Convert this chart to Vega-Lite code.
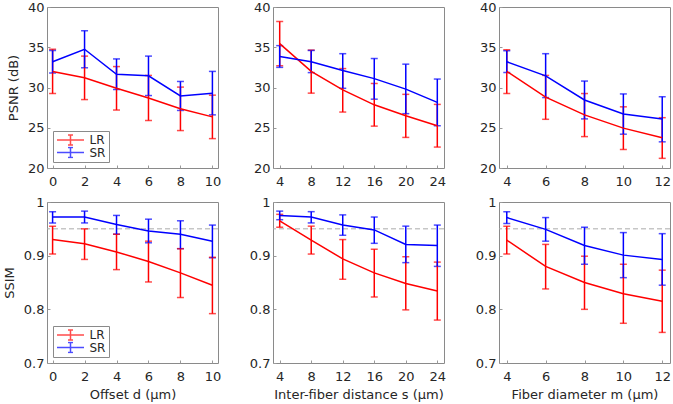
{
  "$schema": "https://vega.github.io/schema/vega-lite/v6.json",
  "padding": {"left": 2, "top": 0, "right": 0, "bottom": 0},
  "background": "white",
  "datasets": {
    "p1": [
      {"x": 0, "series": "LR", "mean": 32.0, "lo": 29.25, "hi": 34.75},
      {"x": 2, "series": "LR", "mean": 31.2, "lo": 28.5, "hi": 33.9},
      {"x": 4, "series": "LR", "mean": 29.9, "lo": 27.2, "hi": 32.6},
      {"x": 6, "series": "LR", "mean": 28.7, "lo": 25.9, "hi": 31.5},
      {"x": 8, "series": "LR", "mean": 27.35, "lo": 24.65, "hi": 30.05},
      {"x": 10, "series": "LR", "mean": 26.35, "lo": 23.65, "hi": 29.05},
      {"x": 0, "series": "SR", "mean": 33.2, "lo": 31.8, "hi": 34.6},
      {"x": 2, "series": "SR", "mean": 34.75, "lo": 32.45, "hi": 37.05},
      {"x": 4, "series": "SR", "mean": 31.65, "lo": 29.75, "hi": 33.55},
      {"x": 6, "series": "SR", "mean": 31.45, "lo": 29.0, "hi": 33.9},
      {"x": 8, "series": "SR", "mean": 28.95, "lo": 27.15, "hi": 30.75},
      {"x": 10, "series": "SR", "mean": 29.3, "lo": 26.6, "hi": 32.0}
    ],
    "p2": [
      {"x": 4, "series": "LR", "mean": 35.45, "lo": 32.7, "hi": 38.2},
      {"x": 8, "series": "LR", "mean": 32.0, "lo": 29.3, "hi": 34.65},
      {"x": 12, "series": "LR", "mean": 29.7, "lo": 26.95, "hi": 32.35},
      {"x": 16, "series": "LR", "mean": 27.85, "lo": 25.2, "hi": 30.5},
      {"x": 20, "series": "LR", "mean": 26.5, "lo": 23.8, "hi": 29.15},
      {"x": 24, "series": "LR", "mean": 25.25, "lo": 22.6, "hi": 27.9},
      {"x": 4, "series": "SR", "mean": 33.85, "lo": 32.5, "hi": 35.2},
      {"x": 8, "series": "SR", "mean": 33.2, "lo": 31.85, "hi": 34.6},
      {"x": 12, "series": "SR", "mean": 32.1, "lo": 29.9, "hi": 34.2},
      {"x": 16, "series": "SR", "mean": 31.1, "lo": 28.55, "hi": 33.6},
      {"x": 20, "series": "SR", "mean": 29.8, "lo": 26.75, "hi": 32.9},
      {"x": 24, "series": "SR", "mean": 28.15, "lo": 25.25, "hi": 31.05}
    ],
    "p3": [
      {"x": 4, "series": "LR", "mean": 32.0, "lo": 29.25, "hi": 34.7},
      {"x": 6, "series": "LR", "mean": 28.8, "lo": 26.05, "hi": 31.5},
      {"x": 8, "series": "LR", "mean": 26.6, "lo": 23.9, "hi": 29.25},
      {"x": 10, "series": "LR", "mean": 24.95, "lo": 22.3, "hi": 27.6},
      {"x": 12, "series": "LR", "mean": 23.75, "lo": 21.2, "hi": 26.25},
      {"x": 4, "series": "SR", "mean": 33.2, "lo": 31.85, "hi": 34.55},
      {"x": 6, "series": "SR", "mean": 31.45, "lo": 28.75, "hi": 34.2},
      {"x": 8, "series": "SR", "mean": 28.45, "lo": 26.1, "hi": 30.8},
      {"x": 10, "series": "SR", "mean": 26.7, "lo": 24.2, "hi": 29.2},
      {"x": 12, "series": "SR", "mean": 26.1, "lo": 23.25, "hi": 28.85}
    ],
    "p4": [
      {"x": 0, "series": "LR", "mean": 0.930, "lo": 0.903, "hi": 0.955},
      {"x": 2, "series": "LR", "mean": 0.922, "lo": 0.893, "hi": 0.950},
      {"x": 4, "series": "LR", "mean": 0.907, "lo": 0.874, "hi": 0.940},
      {"x": 6, "series": "LR", "mean": 0.889, "lo": 0.851, "hi": 0.927},
      {"x": 8, "series": "LR", "mean": 0.868, "lo": 0.822, "hi": 0.913},
      {"x": 10, "series": "LR", "mean": 0.845, "lo": 0.792, "hi": 0.897},
      {"x": 0, "series": "SR", "mean": 0.972, "lo": 0.961, "hi": 0.982},
      {"x": 2, "series": "SR", "mean": 0.972, "lo": 0.961, "hi": 0.983},
      {"x": 4, "series": "SR", "mean": 0.958, "lo": 0.940, "hi": 0.975},
      {"x": 6, "series": "SR", "mean": 0.946, "lo": 0.924, "hi": 0.968},
      {"x": 8, "series": "SR", "mean": 0.940, "lo": 0.913, "hi": 0.965},
      {"x": 10, "series": "SR", "mean": 0.927, "lo": 0.896, "hi": 0.957}
    ],
    "p5": [
      {"x": 4, "series": "LR", "mean": 0.965, "lo": 0.953, "hi": 0.977},
      {"x": 8, "series": "LR", "mean": 0.929, "lo": 0.903, "hi": 0.955},
      {"x": 12, "series": "LR", "mean": 0.894, "lo": 0.856, "hi": 0.930},
      {"x": 16, "series": "LR", "mean": 0.868, "lo": 0.823, "hi": 0.912},
      {"x": 20, "series": "LR", "mean": 0.848, "lo": 0.799, "hi": 0.898},
      {"x": 24, "series": "LR", "mean": 0.834, "lo": 0.780, "hi": 0.888},
      {"x": 4, "series": "SR", "mean": 0.975, "lo": 0.967, "hi": 0.983},
      {"x": 8, "series": "SR", "mean": 0.972, "lo": 0.961, "hi": 0.982},
      {"x": 12, "series": "SR", "mean": 0.957, "lo": 0.938, "hi": 0.976},
      {"x": 16, "series": "SR", "mean": 0.948, "lo": 0.923, "hi": 0.972},
      {"x": 20, "series": "SR", "mean": 0.921, "lo": 0.887, "hi": 0.955},
      {"x": 24, "series": "SR", "mean": 0.919, "lo": 0.880, "hi": 0.957}
    ],
    "p6": [
      {"x": 4, "series": "LR", "mean": 0.929, "lo": 0.903, "hi": 0.955},
      {"x": 6, "series": "LR", "mean": 0.880, "lo": 0.838, "hi": 0.921},
      {"x": 8, "series": "LR", "mean": 0.850, "lo": 0.800, "hi": 0.899},
      {"x": 10, "series": "LR", "mean": 0.829, "lo": 0.774, "hi": 0.884},
      {"x": 12, "series": "LR", "mean": 0.815, "lo": 0.757, "hi": 0.873},
      {"x": 4, "series": "SR", "mean": 0.971, "lo": 0.960, "hi": 0.982},
      {"x": 6, "series": "SR", "mean": 0.949, "lo": 0.927, "hi": 0.971},
      {"x": 8, "series": "SR", "mean": 0.919, "lo": 0.884, "hi": 0.953},
      {"x": 10, "series": "SR", "mean": 0.901, "lo": 0.859, "hi": 0.943},
      {"x": 12, "series": "SR", "mean": 0.893, "lo": 0.845, "hi": 0.941}
    ],
    "threshold": [{"ssim": 0.95}]
  },
  "columns": 3,
  "spacing": {"row": 34, "column": 55},
  "bounds": "flush",
  "resolve": {"scale": {"color": "independent"}, "legend": {"color": "independent"}},
  "concat": [
    {
      "width": 171, "height": 161,
      "data": {"name": "p1"},
      "encoding": {
        "x": {"field": "x", "type": "quantitative", "scale": {"domain": [-0.35, 10.35], "nice": false, "zero": false}, "axis": {"title": null, "values": [0, 2, 4, 6, 8, 10]}},
        "color": {"field": "series", "type": "nominal", "scale": {"domain": ["LR", "SR"], "range": ["#ff0000", "#0000ff"]},
          "legend": {"orient": "bottom-left", "offset": 6, "title": null, "strokeColor": "#8a8a8a", "fillColor": "white", "padding": 3, "symbolType": "M-2.7,0H2.7M0,-1V1M-0.5,-1H0.5M-0.5,1H0.5", "symbolSize": 100, "symbolStrokeWidth": 1.5, "symbolOffset": 8.5, "labelOffset": 13, "labelFontSize": 12, "clipHeight": 12, "rowPadding": 0.5, "labelColor": "#262626"}}
      },
      "layer": [
        {"mark": {"type": "errorbar", "ticks": {"size": 7, "thickness": 1.5}, "rule": {"strokeWidth": 1.5}},
         "encoding": {"y": {"field": "lo", "type": "quantitative", "title": "PSNR (dB)", "scale": {"domain": [20, 40], "nice": false, "zero": false}, "axis": {"values": [20, 25, 30, 35, 40]}}, "y2": {"field": "hi"}}},
        {"mark": {"type": "line", "strokeWidth": 1.5},
         "encoding": {"y": {"field": "mean", "type": "quantitative", "title": "PSNR (dB)", "scale": {"domain": [20, 40], "nice": false, "zero": false}, "axis": {"values": [20, 25, 30, 35, 40]}}}}
      ]
    },
    {
      "width": 171, "height": 161,
      "data": {"name": "p2"},
      "encoding": {
        "x": {"field": "x", "type": "quantitative", "scale": {"domain": [3.15, 24.85], "nice": false, "zero": false}, "axis": {"title": null, "values": [4, 8, 12, 16, 20, 24]}},
        "color": {"field": "series", "type": "nominal", "scale": {"domain": ["LR", "SR"], "range": ["#ff0000", "#0000ff"]}, "legend": null}
      },
      "layer": [
        {"mark": {"type": "errorbar", "ticks": {"size": 7, "thickness": 1.5}, "rule": {"strokeWidth": 1.5}},
         "encoding": {"y": {"field": "lo", "type": "quantitative", "title": null, "scale": {"domain": [20, 40], "nice": false, "zero": false}, "axis": {"values": [20, 25, 30, 35, 40]}}, "y2": {"field": "hi"}}},
        {"mark": {"type": "line", "strokeWidth": 1.5},
         "encoding": {"y": {"field": "mean", "type": "quantitative", "title": null, "scale": {"domain": [20, 40], "nice": false, "zero": false}, "axis": {"values": [20, 25, 30, 35, 40]}}}}
      ]
    },
    {
      "width": 171, "height": 161,
      "data": {"name": "p3"},
      "encoding": {
        "x": {"field": "x", "type": "quantitative", "scale": {"domain": [3.6, 12.4], "nice": false, "zero": false}, "axis": {"title": null, "values": [4, 6, 8, 10, 12]}},
        "color": {"field": "series", "type": "nominal", "scale": {"domain": ["LR", "SR"], "range": ["#ff0000", "#0000ff"]}, "legend": null}
      },
      "layer": [
        {"mark": {"type": "errorbar", "ticks": {"size": 7, "thickness": 1.5}, "rule": {"strokeWidth": 1.5}},
         "encoding": {"y": {"field": "lo", "type": "quantitative", "title": null, "scale": {"domain": [20, 40], "nice": false, "zero": false}, "axis": {"values": [20, 25, 30, 35, 40]}}, "y2": {"field": "hi"}}},
        {"mark": {"type": "line", "strokeWidth": 1.5},
         "encoding": {"y": {"field": "mean", "type": "quantitative", "title": null, "scale": {"domain": [20, 40], "nice": false, "zero": false}, "axis": {"values": [20, 25, 30, 35, 40]}}}}
      ]
    },
    {
      "width": 171, "height": 161,
      "layer": [
        {"data": {"name": "threshold"}, "mark": {"type": "rule", "color": "#aaaaaa", "strokeWidth": 1, "strokeDash": [5, 3]},
         "encoding": {"y": {"field": "ssim", "type": "quantitative", "title": "SSIM", "scale": {"domain": [0.7, 1], "nice": false, "zero": false}, "axis": {"values": [0.7, 0.8, 0.9, 1], "format": "~g"}}}},
        {"data": {"name": "p4"}, "mark": {"type": "errorbar", "ticks": {"size": 7, "thickness": 1.5}, "rule": {"strokeWidth": 1.5}},
         "encoding": {
           "x": {"field": "x", "type": "quantitative", "scale": {"domain": [-0.35, 10.35], "nice": false, "zero": false}, "axis": {"title": "Offset d (μm)", "values": [0, 2, 4, 6, 8, 10]}},
           "color": {"field": "series", "type": "nominal", "scale": {"domain": ["LR", "SR"], "range": ["#ff0000", "#0000ff"]},
             "legend": {"orient": "bottom-left", "offset": 6, "title": null, "strokeColor": "#8a8a8a", "fillColor": "white", "padding": 3, "symbolType": "M-2.7,0H2.7M0,-1V1M-0.5,-1H0.5M-0.5,1H0.5", "symbolSize": 100, "symbolStrokeWidth": 1.5, "symbolOffset": 8.5, "labelOffset": 13, "labelFontSize": 12, "clipHeight": 12, "rowPadding": 0.5, "labelColor": "#262626"}},
           "y": {"field": "lo", "type": "quantitative", "title": "SSIM", "scale": {"domain": [0.7, 1], "nice": false, "zero": false}, "axis": {"values": [0.7, 0.8, 0.9, 1], "format": "~g"}}, "y2": {"field": "hi"}}},
        {"data": {"name": "p4"}, "mark": {"type": "line", "strokeWidth": 1.5},
         "encoding": {
           "x": {"field": "x", "type": "quantitative", "scale": {"domain": [-0.35, 10.35], "nice": false, "zero": false}, "axis": {"title": "Offset d (μm)", "values": [0, 2, 4, 6, 8, 10]}},
           "color": {"field": "series", "type": "nominal", "scale": {"domain": ["LR", "SR"], "range": ["#ff0000", "#0000ff"]}},
           "y": {"field": "mean", "type": "quantitative", "title": "SSIM", "scale": {"domain": [0.7, 1], "nice": false, "zero": false}, "axis": {"values": [0.7, 0.8, 0.9, 1], "format": "~g"}}}}
      ]
    },
    {
      "width": 171, "height": 161,
      "layer": [
        {"data": {"name": "threshold"}, "mark": {"type": "rule", "color": "#aaaaaa", "strokeWidth": 1, "strokeDash": [5, 3]},
         "encoding": {"y": {"field": "ssim", "type": "quantitative", "title": null, "scale": {"domain": [0.7, 1], "nice": false, "zero": false}, "axis": {"values": [0.7, 0.8, 0.9, 1], "format": "~g"}}}},
        {"data": {"name": "p5"}, "mark": {"type": "errorbar", "ticks": {"size": 7, "thickness": 1.5}, "rule": {"strokeWidth": 1.5}},
         "encoding": {
           "x": {"field": "x", "type": "quantitative", "scale": {"domain": [3.15, 24.85], "nice": false, "zero": false}, "axis": {"title": "Inter-fiber distance s (μm)", "values": [4, 8, 12, 16, 20, 24]}},
           "color": {"field": "series", "type": "nominal", "scale": {"domain": ["LR", "SR"], "range": ["#ff0000", "#0000ff"]}, "legend": null},
           "y": {"field": "lo", "type": "quantitative", "title": null, "scale": {"domain": [0.7, 1], "nice": false, "zero": false}, "axis": {"values": [0.7, 0.8, 0.9, 1], "format": "~g"}}, "y2": {"field": "hi"}}},
        {"data": {"name": "p5"}, "mark": {"type": "line", "strokeWidth": 1.5},
         "encoding": {
           "x": {"field": "x", "type": "quantitative", "scale": {"domain": [3.15, 24.85], "nice": false, "zero": false}, "axis": {"title": "Inter-fiber distance s (μm)", "values": [4, 8, 12, 16, 20, 24]}},
           "color": {"field": "series", "type": "nominal", "scale": {"domain": ["LR", "SR"], "range": ["#ff0000", "#0000ff"]}, "legend": null},
           "y": {"field": "mean", "type": "quantitative", "title": null, "scale": {"domain": [0.7, 1], "nice": false, "zero": false}, "axis": {"values": [0.7, 0.8, 0.9, 1], "format": "~g"}}}}
      ]
    },
    {
      "width": 171, "height": 161,
      "layer": [
        {"data": {"name": "threshold"}, "mark": {"type": "rule", "color": "#aaaaaa", "strokeWidth": 1, "strokeDash": [5, 3]},
         "encoding": {"y": {"field": "ssim", "type": "quantitative", "title": null, "scale": {"domain": [0.7, 1], "nice": false, "zero": false}, "axis": {"values": [0.7, 0.8, 0.9, 1], "format": "~g"}}}},
        {"data": {"name": "p6"}, "mark": {"type": "errorbar", "ticks": {"size": 7, "thickness": 1.5}, "rule": {"strokeWidth": 1.5}},
         "encoding": {
           "x": {"field": "x", "type": "quantitative", "scale": {"domain": [3.6, 12.4], "nice": false, "zero": false}, "axis": {"title": "Fiber diameter m (μm)", "values": [4, 6, 8, 10, 12]}},
           "color": {"field": "series", "type": "nominal", "scale": {"domain": ["LR", "SR"], "range": ["#ff0000", "#0000ff"]}, "legend": null},
           "y": {"field": "lo", "type": "quantitative", "title": null, "scale": {"domain": [0.7, 1], "nice": false, "zero": false}, "axis": {"values": [0.7, 0.8, 0.9, 1], "format": "~g"}}, "y2": {"field": "hi"}}},
        {"data": {"name": "p6"}, "mark": {"type": "line", "strokeWidth": 1.5},
         "encoding": {
           "x": {"field": "x", "type": "quantitative", "scale": {"domain": [3.6, 12.4], "nice": false, "zero": false}, "axis": {"title": "Fiber diameter m (μm)", "values": [4, 6, 8, 10, 12]}},
           "color": {"field": "series", "type": "nominal", "scale": {"domain": ["LR", "SR"], "range": ["#ff0000", "#0000ff"]}, "legend": null},
           "y": {"field": "mean", "type": "quantitative", "title": null, "scale": {"domain": [0.7, 1], "nice": false, "zero": false}, "axis": {"values": [0.7, 0.8, 0.9, 1], "format": "~g"}}}}
      ]
    }
  ],
  "config": {
    "font": "DejaVu Sans",
    "view": {"stroke": "#8a8a8a", "strokeWidth": 1},
    "axis": {"grid": false, "domain": false, "labelFontSize": 13, "titleFontSize": 13, "labelColor": "#262626", "titleColor": "#262626", "titleFontWeight": "normal", "tickColor": "#9a9a9a", "tickSize": -3},
    "axisX": {"labelPadding": 10, "titlePadding": 5},
    "axisY": {"labelPadding": 6, "titlePadding": 7}
  }
}
